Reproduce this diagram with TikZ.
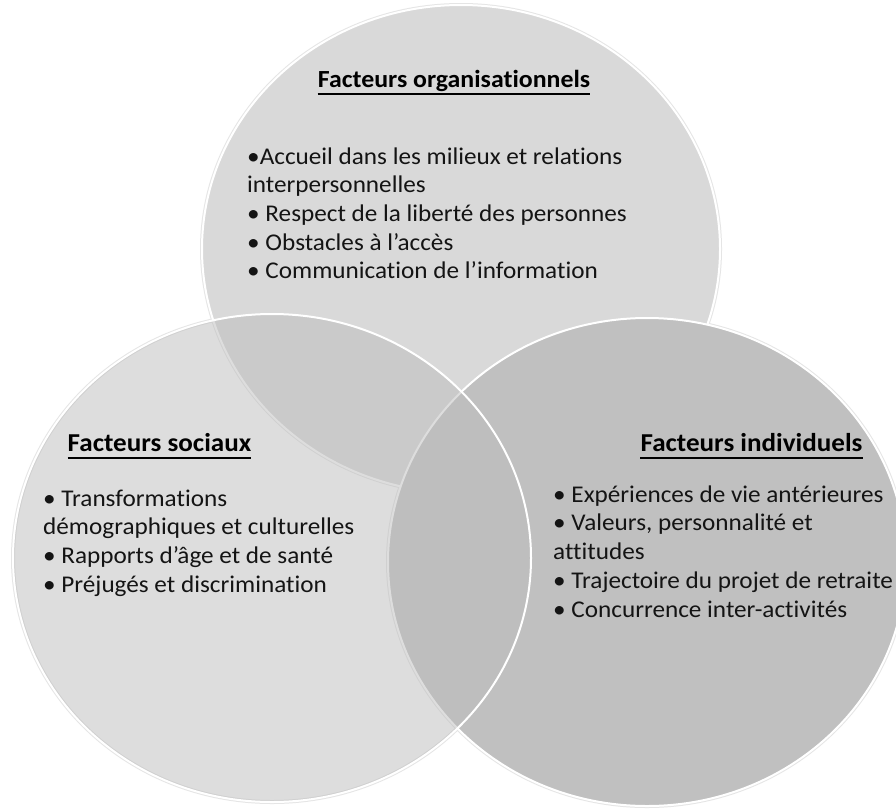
\documentclass[tikz,border=0pt]{standalone}
\usepackage{fontspec}
\setmainfont{Carlito}[FakeStretch=1.05, Ligatures=NoCommon]
\begin{document}
\begin{tikzpicture}[x=1pt,y=-1pt,
  halo/.style={draw=black!10, line width=4pt},
  rim/.style={draw=white, line width=2pt},
  body/.style={anchor=base west, inner sep=0pt, text=black!92, font=\fontsize{24}{28}\selectfont},
  head/.style={anchor=base, inner sep=0pt, text=black, font=\fontsize{24.6}{28}\selectfont\bfseries},
  sidehead/.style={head, font=\fontsize{25.8}{28}\selectfont\bfseries},
  uline/.style={line width=1.8pt, black}]
\fill[white] (0,0) rectangle (896,811);
\useasboundingbox (0,0) rectangle (896,811);
\definecolor{topfill}{gray}{0.851}
\definecolor{rightfill}{gray}{0.753}
\definecolor{leftfill}{gray}{0.741}
\begin{scope}
  \clip (0,0) rectangle (896,811);
  \draw[halo] (461,249) ellipse [x radius=259pt, y radius=244pt];
  \draw[halo] (647,562) ellipse [x radius=259pt, y radius=244pt];
  \draw[halo] (272,558) ellipse [x radius=259pt, y radius=244pt];
  \fill[topfill] (461,249) ellipse [x radius=259pt, y radius=244pt];
  \draw[rim] (461,249) ellipse [x radius=259pt, y radius=244pt];
  \fill[rightfill] (647,562) ellipse [x radius=259pt, y radius=244pt];
  \draw[rim] (647,562) ellipse [x radius=259pt, y radius=244pt];
  \fill[leftfill, fill opacity=0.5] (272,558) ellipse [x radius=259pt, y radius=244pt];
  \draw[rim] (272,558) ellipse [x radius=259pt, y radius=244pt];
\end{scope}
% top circle texts
\node[head] (th) at (454,87) {Facteurs organisationnels};
\draw[uline] ([yshift=-7pt]th.base west) -- ([yshift=-7pt]th.base east);
\node[body] (t1) at (247,164) {•Accueil dans les milieux et relations};
\node[body] (t2) at (247,192.7) {interpersonnelles};
\node[body] (t3) at (247,221.4) {• Respect de la liberté des personnes};
\node[body] (t4) at (247,250.1) {• Obstacles à l’accès};
\node[body] (t5) at (247,278.8) {• Communication de l’information};
% left circle texts
\node[sidehead] (lh) at (159.5,451) {Facteurs sociaux};
\draw[uline] ([yshift=-7pt]lh.base west) -- ([yshift=-7pt]lh.base east);
\node[body] (l1) at (43,506) {• Transformations};
\node[body] (l2) at (43,534.75) {démographiques et culturelles};
\node[body] (l3) at (43,563.5) {• Rapports d’âge et de santé};
\node[body] (l4) at (43,592.25) {• Préjugés et discrimination};
% right circle texts
\node[sidehead] (rh) at (751.5,451) {Facteurs individuels};
\draw[uline] ([yshift=-7pt]rh.base west) -- ([yshift=-7pt]rh.base east);
\node[body] (r1) at (553,502) {• Expériences de vie antérieures};
\node[body] (r2) at (553,530.75) {• Valeurs, personnalité et};
\node[body] (r3) at (553,559.5) {attitudes};
\node[body] (r4) at (553,588.25) {• Trajectoire du projet de retraite};
\node[body] (r5) at (553,617) {• Concurrence inter-activités};
\end{tikzpicture}
\end{document}
